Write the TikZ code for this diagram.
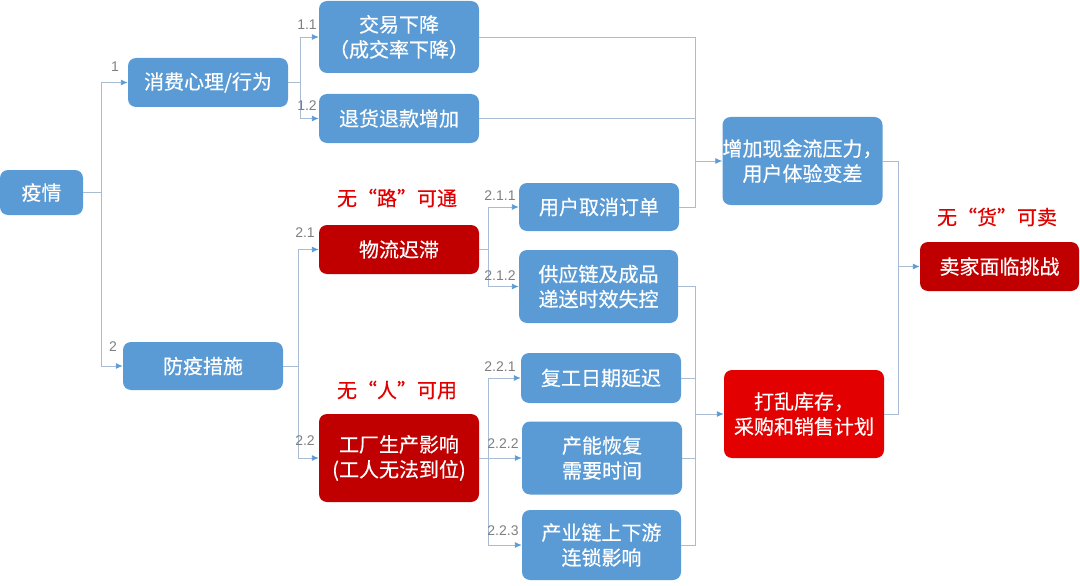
\documentclass[tikz,border=0pt]{standalone}
\usepackage{fontspec}
\setmainfont{Noto Sans CJK SC}
\newfontfamily\boxfont[FakeBold=0.4]{Noto Sans CJK SC}
\newfontfamily\numfont{Liberation Sans}
\usetikzlibrary{arrows.meta,calc}
\definecolor{boxblue}{HTML}{5B9BD5}
\definecolor{boxdred}{HTML}{C00000}
\definecolor{boxred}{HTML}{E20000}
\definecolor{txtred}{HTML}{E00000}
\definecolor{linec}{HTML}{A9BCD3}
\definecolor{numc}{HTML}{7F7F7F}
\begin{document}
\begin{tikzpicture}[x=1pt,y=-1pt,
  box/.style={rectangle,rounded corners=8pt,fill=boxblue,text=white,align=center,
    inner sep=0pt,font=\boxfont\fontsize{20}{25}\selectfont},
  dbox/.style={box,fill=boxdred},
  rbox/.style={box,fill=boxred},
  conn/.style={draw=linec,line width=0.9pt},
  arr/.style={conn,-{Latex[length=7pt,width=6pt,fill=boxblue,color=boxblue]}},
  num/.style={text=numc,font=\numfont\fontsize{14}{15}\selectfont,inner sep=0pt},
  lab/.style={text=txtred,font=\boxfont\fontsize{20}{22}\selectfont,inner sep=0pt}]
\useasboundingbox (0,0) rectangle (1080,586);
% nodes
\node[box,minimum width=83pt,minimum height=45pt] (yq) at (41.5,192.5) {疫情};
\node[box,minimum width=160pt,minimum height=49pt] (xf) at (208,82.5) {消费心理/行为};
\node[box,minimum width=160pt,minimum height=72pt] (jy) at (399,37) {交易下降\\（成交率下降）};
\node[box,minimum width=160pt,minimum height=49pt] (th) at (399,118.5) {退货退款增加};
\node[box,minimum width=160pt,minimum height=48pt] (fy) at (203,366) {防疫措施};
\node[dbox,minimum width=160pt,minimum height=49pt] (wl) at (399,249.5) {物流迟滞};
\node[dbox,minimum width=160pt,minimum height=88pt] (gc) at (399,458) {工厂生产影响\\(工人无法到位)};
\node[box,minimum width=160pt,minimum height=48pt] (qx) at (599,207) {用户取消订单};
\node[box,minimum width=159pt,minimum height=73pt] (gy) at (598.5,286.5) {供应链及成品\\递送时效失控};
\node[box,minimum width=160pt,minimum height=50pt] (fg) at (601,378) {复工日期延迟};
\node[box,minimum width=160pt,minimum height=73pt] (cn) at (602,458) {产能恢复\\需要时间};
\node[box,minimum width=159pt,minimum height=70pt] (cy) at (601.5,545) {产业链上下游\\连锁影响};
\node[box,minimum width=159pt,minimum height=88pt] (zj) at (802.5,161) {增加现金流压力，\\用户体验变差};
\node[rbox,minimum width=160pt,minimum height=88pt] (dl) at (804,414) {打乱库存，\\采购和销售计划};
\node[dbox,minimum width=159pt,minimum height=49pt] (mj) at (999.5,266.5) {卖家面临挑战};
% red labels
\node[lab] (l1) at (397,198) {无“路”可通};
\node[lab] (l2) at (397,390) {无“人”可用};
\node[lab] (l3) at (997,217) {无“货”可卖};
% bus coordinates
\coordinate (b0) at (101,0);
\coordinate (b1) at (300,0);
\coordinate (b2) at (298,0);
\coordinate (b3) at (488,0);
\coordinate (b4) at (695,0);
\coordinate (b5) at (898,0);
% connectors
\draw[arr] (yq.east) -- (yq.east -| b0) |- (xf.west);
\draw[arr] (yq.east -| b0) |- (fy.west);
\draw[arr] (xf.east) -- (xf.east -| b1) |- (jy.west);
\draw[arr] (xf.east -| b1) |- (th.west);
\draw[arr] (fy.east) -- (fy.east -| b2) |- (wl.west);
\draw[arr] (fy.east -| b2) |- (gc.west);
\draw[arr] (wl.east) -- (wl.east -| b3) |- (qx.west);
\draw[arr] (wl.east -| b3) |- (gy.west);
\draw[arr] (gc.east) -- (cn.west);
\draw[arr] (gc.east -| b3) |- (fg.west);
\draw[arr] (gc.east -| b3) |- (cy.west);
\draw[conn] (jy.east) -| (b4 |- qx.east) -- (qx.east);
\draw[conn] (th.east) -- (th.east -| b4);
\draw[arr] (b4 |- zj.west) -- (zj.west);
\draw[conn] (gy.east) -| (b4 |- cy.east) -- (cy.east);
\draw[conn] (fg.east) -- (fg.east -| b4);
\draw[conn] (cn.east) -- (cn.east -| b4);
\draw[arr] (b4 |- dl.west) -- (dl.west);
\draw[conn] (zj.east) -| (b5 |- dl.east) -- (dl.east);
\draw[arr] (b5 |- mj.west) -- (mj.west);
% number labels
\node[num] (n1) at (115,67) {1};
\node[num] (n2) at (113,347) {2};
\node[num] (n11) at (307,25) {1.1};
\node[num] (n12) at (307,106) {1.2};
\node[num] (n21) at (305,233) {2.1};
\node[num] (n22) at (305,441) {2.2};
\node[num] (n211) at (500,196) {2.1.1};
\node[num] (n212) at (500,276) {2.1.2};
\node[num] (n221) at (500,367) {2.2.1};
\node[num] (n222) at (503,444) {2.2.2};
\node[num] (n223) at (503,531) {2.2.3};
\end{tikzpicture}
\end{document}
